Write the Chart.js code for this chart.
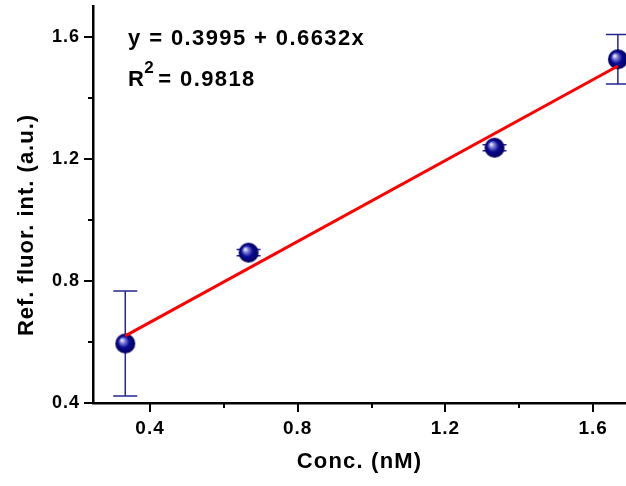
<!DOCTYPE html>
<html>
<head>
<meta charset="utf-8">
<script src="https://cdn.jsdelivr.net/npm/chart.js@4.4.1/dist/chart.umd.min.js"></script>
<style>
  html, body { margin: 0; padding: 0; background: #fff; }
  #wrap { width: 626px; height: 486px; }
</style>
</head>
<body>
<div id="wrap"><canvas id="chart" width="626" height="486"></canvas></div>
<script>
// measured points (conc in nM, fluorescence ratio) with error bars
const concX = [0.333, 0.667, 1.333, 1.667];
const fluorY = [0.595, 0.893, 1.237, 1.527];
const fluorErr = [0.172, 0.010, 0.010, 0.081];

// fitted line end points
const fitX = [0.333, 1.667];
const fitY = [0.620, 1.505];

const xTicks = [0.4, 0.6, 0.8, 1.0, 1.2, 1.4, 1.6];
const xLabels = ['0.4', '', '0.8', '', '1.2', '', '1.6'];
const yTicks = [0.4, 0.6, 0.8, 1.0, 1.2, 1.4, 1.6];
const yLabels = ['0.4', '', '0.8', '', '1.2', '', '1.6'];

const fitText = 'y = 0.3995 + 0.6632x';
const r2Value = '= 0.9818';
const xTitle = 'Conc. (nM)';
const yTitle = 'Ref. fluor. int. (a.u.)';

const FONT = '"Liberation Sans", Arial, sans-serif';

// shaded ball marker
function makeSphere(r) {
  const c = document.createElement('canvas');
  c.width = c.height = r * 2 + 2;
  const g = c.getContext('2d');
  const m = r + 1;
  const grad = g.createRadialGradient(m - r * 0.35, m - r * 0.35, 0.5, m, m, r);
  grad.addColorStop(0, '#f0f0ff');
  grad.addColorStop(0.22, '#8080d8');
  grad.addColorStop(0.55, '#0a0a95');
  grad.addColorStop(1, '#00005a');
  g.fillStyle = grad;
  g.beginPath();
  g.arc(m, m, r, 0, Math.PI * 2);
  g.fill();
  return c;
}

const sphere = makeSphere(10);

const errorBars = {
  id: 'errorBars',
  beforeDatasetsDraw(chart) {
    const { ctx, scales: { x, y } } = chart;
    ctx.save();
    ctx.strokeStyle = '#262690';
    ctx.lineWidth = 1.5;
    concX.forEach((cx, i) => {
      const px = x.getPixelForValue(cx);
      const top = y.getPixelForValue(fluorY[i] + fluorErr[i]);
      const bot = y.getPixelForValue(fluorY[i] - fluorErr[i]);
      ctx.beginPath();
      ctx.moveTo(px, top); ctx.lineTo(px, bot);
      ctx.moveTo(px - 12, top); ctx.lineTo(px + 12, top);
      ctx.moveTo(px - 12, bot); ctx.lineTo(px + 12, bot);
      ctx.stroke();
    });
    ctx.restore();
  }
};

// outward major/minor ticks, axis titles and fit equation
const decorations = {
  id: 'decorations',
  beforeDraw(chart) {
    chart.ctx.letterSpacing = '1px';
  },
  afterDraw(chart) {
    const { ctx, chartArea: area, scales: { x, y } } = chart;
    ctx.save();
    ctx.strokeStyle = '#000';
    ctx.lineWidth = 2;
    ctx.beginPath();
    xTicks.forEach((v, i) => {
      const px = Math.round(x.getPixelForValue(v));
      const len = xLabels[i] ? 9 : 5;
      ctx.moveTo(px, area.bottom);
      ctx.lineTo(px, area.bottom + len);
    });
    yTicks.forEach((v, i) => {
      const py = Math.round(y.getPixelForValue(v));
      const len = yLabels[i] ? 9 : 5;
      ctx.moveTo(area.left, py);
      ctx.lineTo(area.left - len, py);
    });
    ctx.stroke();

    ctx.fillStyle = '#000';
    ctx.textBaseline = 'middle';
    ctx.textAlign = 'center';
    ctx.letterSpacing = '1.2px';
    ctx.font = 'bold 22px ' + FONT;
    ctx.fillText(xTitle, (area.left + area.right) / 2, 462);

    ctx.save();
    ctx.letterSpacing = '1px';
    ctx.translate(27, 225);
    ctx.rotate(-Math.PI / 2);
    ctx.fillText(yTitle, 0, 0);
    ctx.restore();

    ctx.textBaseline = 'alphabetic';
    ctx.textAlign = 'left';
    const tx = area.left + 35;
    ctx.letterSpacing = '1.4px';
    ctx.font = 'bold 22px ' + FONT;
    ctx.fillText(fitText, tx, 45);
    ctx.fillText('R', tx, 86);
    const rw = ctx.measureText('R').width;
    ctx.font = 'bold 17px ' + FONT;
    ctx.fillText('2', tx + rw - 1, 73);
    ctx.font = 'bold 22px ' + FONT;
    ctx.fillText(r2Value, tx + rw + 13, 86);
    ctx.restore();
  }
};

const ctx = document.getElementById('chart').getContext('2d');

new Chart(ctx, {
  type: 'scatter',
  data: {
    datasets: [
      {
        label: 'fit',
        type: 'line',
        data: fitX.map((v, i) => ({ x: v, y: fitY[i] })),
        borderColor: '#ff0000',
        borderWidth: 3,
        pointRadius: 0,
        fill: false,
        order: 0
      },
      {
        label: 'data',
        data: concX.map((v, i) => ({ x: v, y: fluorY[i] })),
        pointStyle: sphere,
        pointRadius: 10,
        order: 1
      }
    ]
  },
  options: {
    responsive: false,
    animation: false,
    layout: { autoPadding: false, padding: { top: 6, right: 0, left: 0, bottom: 0 } },
    plugins: {
      legend: { display: false },
      tooltip: { enabled: false }
    },
    scales: {
      x: {
        type: 'linear',
        min: 0.2456,
        max: 1.689,
        afterBuildTicks: s => { s.ticks = xTicks.map(v => ({ value: v })); },
        afterFit: s => { s.height = 83; s.paddingLeft = 0; s.paddingRight = 0; },
        grid: { display: false, drawTicks: true, tickLength: 9 },
        border: { display: true, color: '#000', width: 2.5 },
        ticks: {
          color: '#000',
          padding: 5,
          maxRotation: 0,
          autoSkip: false,
          font: { family: FONT, size: 19, weight: 'bold' },
          callback: (v, i) => xLabels[i]
        }
      },
      y: {
        type: 'linear',
        min: 0.4,
        max: 1.7016,
        afterBuildTicks: s => { s.ticks = yTicks.map(v => ({ value: v })); },
        afterFit: s => { s.width = 93; s.paddingTop = 0; s.paddingBottom = 0; },
        grid: { display: false, drawTicks: true, tickLength: 9 },
        border: { display: true, color: '#000', width: 2.5 },
        ticks: {
          color: '#000',
          padding: 4,
          autoSkip: false,
          font: { family: FONT, size: 18, weight: 'bold' },
          callback: (v, i) => yLabels[i]
        }
      }
    }
  },
  plugins: [errorBars, decorations]
});
</script>
</body>
</html>
